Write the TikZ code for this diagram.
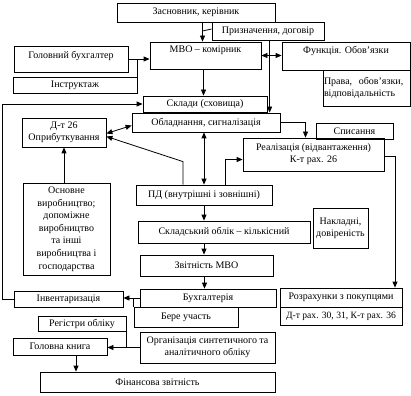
\documentclass[tikz,border=0pt]{standalone}
\usepackage{fontspec}
\setmainfont{Liberation Serif}
\usetikzlibrary{arrows.meta}

\begin{document}
\begin{tikzpicture}[x=1pt, y=-1pt,
  blok/.style={draw, line width=0.8pt, inner xsep=1pt, inner ysep=1pt, align=center,
    font=\fontsize{10}{12}\selectfont},
  strilka/.style={line width=0.8pt, -{Triangle[length=6pt,width=5pt]}},
  dvi/.style={line width=0.8pt, {Triangle[length=6pt,width=5pt]}-{Triangle[length=6pt,width=5pt]}},
  liniia/.style={line width=0.8pt}]
  \useasboundingbox (0,0) rectangle (411,395);

  \node[blok, minimum width=158, minimum height=19] (zasn) at (196,12.5) {Засновник, керівник};
  \node[blok, minimum width=112, minimum height=18] (pryzn) at (268,31) {Призначення, договір};
  \node[blok, minimum width=111, minimum height=27, text depth=12pt] (mvo) at (205.5,55.5) {МВО – комірник};
  \node[blok, minimum width=128, minimum height=28, text depth=12pt] (funk) at (346,56) {Функція. Обов’язки};
  \node[blok, minimum width=87, minimum height=36, text width=85pt, align=left] (prava) at (366.5,88) {Права, \ обов’язки,\\відповідальність};
  \node[blok, minimum width=114, minimum height=26, text depth=8pt] (golbuh) at (71,59) {Головний бухгалтер};
  \node[blok, minimum width=124, minimum height=16] (instr) at (75,85) {Інструктаж};
  \node[blok, minimum width=124, minimum height=16] (sklady) at (205,104) {Склади (сховища)};
  \node[blok, minimum width=148, minimum height=19] (obl) at (206,122.5) {Обладнання, сигналізація};
  \node[blok, minimum width=84, minimum height=29] (opryb) at (64,132.5) {Д-т 26\\Оприбуткування};
  \node[blok, minimum width=87, minimum height=92, font=\fontsize{10}{12.6}\selectfont] (osnov) at (66.5,229)
    {Основне\\виробництво;\\допоміжне\\виробництво\\та інші\\виробництва і\\господарства};
  \node[blok, minimum width=136, minimum height=20] (pd) at (204,195) {ПД (внутрішні і зовнішні)};
  \node[blok, minimum width=77, minimum height=16] (spys) at (354.5,131) {Списання};
  \node[blok, minimum width=141, minimum height=33] (real) at (313.5,154.5) {Реалізація (відвантаження)\\К-т рах. 26};
  \node[blok, minimum width=172, minimum height=22] (sklob) at (224,232) {Складський облік – кількісний};
  \node[blok, minimum width=55, minimum height=40] (nakl) at (340.5,228) {Накладні,\\довіреність};
  \node[blok, minimum width=133, minimum height=21] (zvit) at (206.5,265.5) {Звітність МВО};
  \node[blok, minimum width=136, minimum height=18] (buh) at (208,298) {Бухгалтерія};
  \node[blok, minimum width=104, minimum height=20] (bere) at (186,317) {Бере участь};
  \node[blok, minimum width=135, minimum height=31] (org) at (207.5,347.5) {Організація синтетичного та\\аналітичного обліку};
  \node[blok, minimum width=235, minimum height=20] (fin) at (157.5,382) {Фінансова звітність};
  \node[blok, minimum width=109, minimum height=16] (inv) at (68.5,299) {Інвентаризація};
  \node[blok, minimum width=88, minimum height=15] (reg) at (82,323.5) {Регістри обліку};
  \node[blok, minimum width=94, minimum height=17] (golkn) at (60,346.5) {Головна книга};
  \node[blok, minimum width=122, minimum height=19] (rozr) at (341,297.5) {Розрахунки з покупцями};
  \node[blok, minimum width=122, minimum height=18, font=\fontsize{9.6}{11.5}\selectfont] (dt) at (341,316) {Д-т рах. 30, 31, К-т рах. 36};

  \draw[strilka] ([xshift=-3pt]zasn.south -| mvo.north) -- ([xshift=-3pt]mvo.north);
  \draw[liniia] ([yshift=2pt]pryzn.west) -- ([xshift=-3pt]pryzn.west -| mvo.north);
  \draw[strilka] (golbuh.east) -- (golbuh.east -| mvo.west);
  \draw[liniia] (instr.north east) -- (instr.north east |- golbuh.east);
  \draw[dvi] (mvo.east) -- (mvo.east -| funk.west);
  \draw[strilka] ([xshift=58pt]pryzn.south west) -- ([xshift=58pt]pryzn.south west |- obl.north);
  \draw[strilka] ([xshift=-2pt]mvo.south) -- ([xshift=-2pt]mvo.south |- sklady.north);
  \draw[strilka] (inv.west) -- ++(-11,0) |- (sklady.west);
  \draw[dvi] ([yshift=-1pt]opryb.east) -- ([yshift=-3pt]obl.west);
  \draw[strilka] ([xshift=-21pt]pd.north) -- ++(0,-23) -- ([yshift=-4pt]opryb.east);
  \draw[dvi] (obl.south -| pd.north) -- (pd.north);
  \draw[strilka] ([xshift=21pt]pd.north) |- ([yshift=-5pt]real.west);
  \draw[strilka] (obl.east) -| ([xshift=-8pt]real.north);
  \draw[strilka] ([yshift=-2pt]real.east) -| ([xshift=54pt]rozr.north);
  \draw[strilka] (pd.south) -- (pd.south |- sklob.north);
  \draw[strilka] (pd.south |- sklob.south) -- (pd.south |- zvit.north);
  \draw[strilka] ([xshift=-2pt]zvit.south) -- ([xshift=-2pt]zvit.south |- buh.north);
  \draw[strilka] (buh.west) -- (buh.west -| inv.east);
  \draw[liniia] (bere.north west) -- (bere.north west |- buh.west);
  \draw[strilka] (org.west) -- (org.west -| golkn.east);
  \draw[liniia] (reg.south east) -- (reg.south east |- org.west);
  \draw[strilka] ([xshift=16pt]golkn.south) -- ([xshift=16pt]golkn.south |- fin.north);
  \draw[strilka] (osnov.north -| opryb.south) -- (opryb.south);
\end{tikzpicture}
\end{document}
